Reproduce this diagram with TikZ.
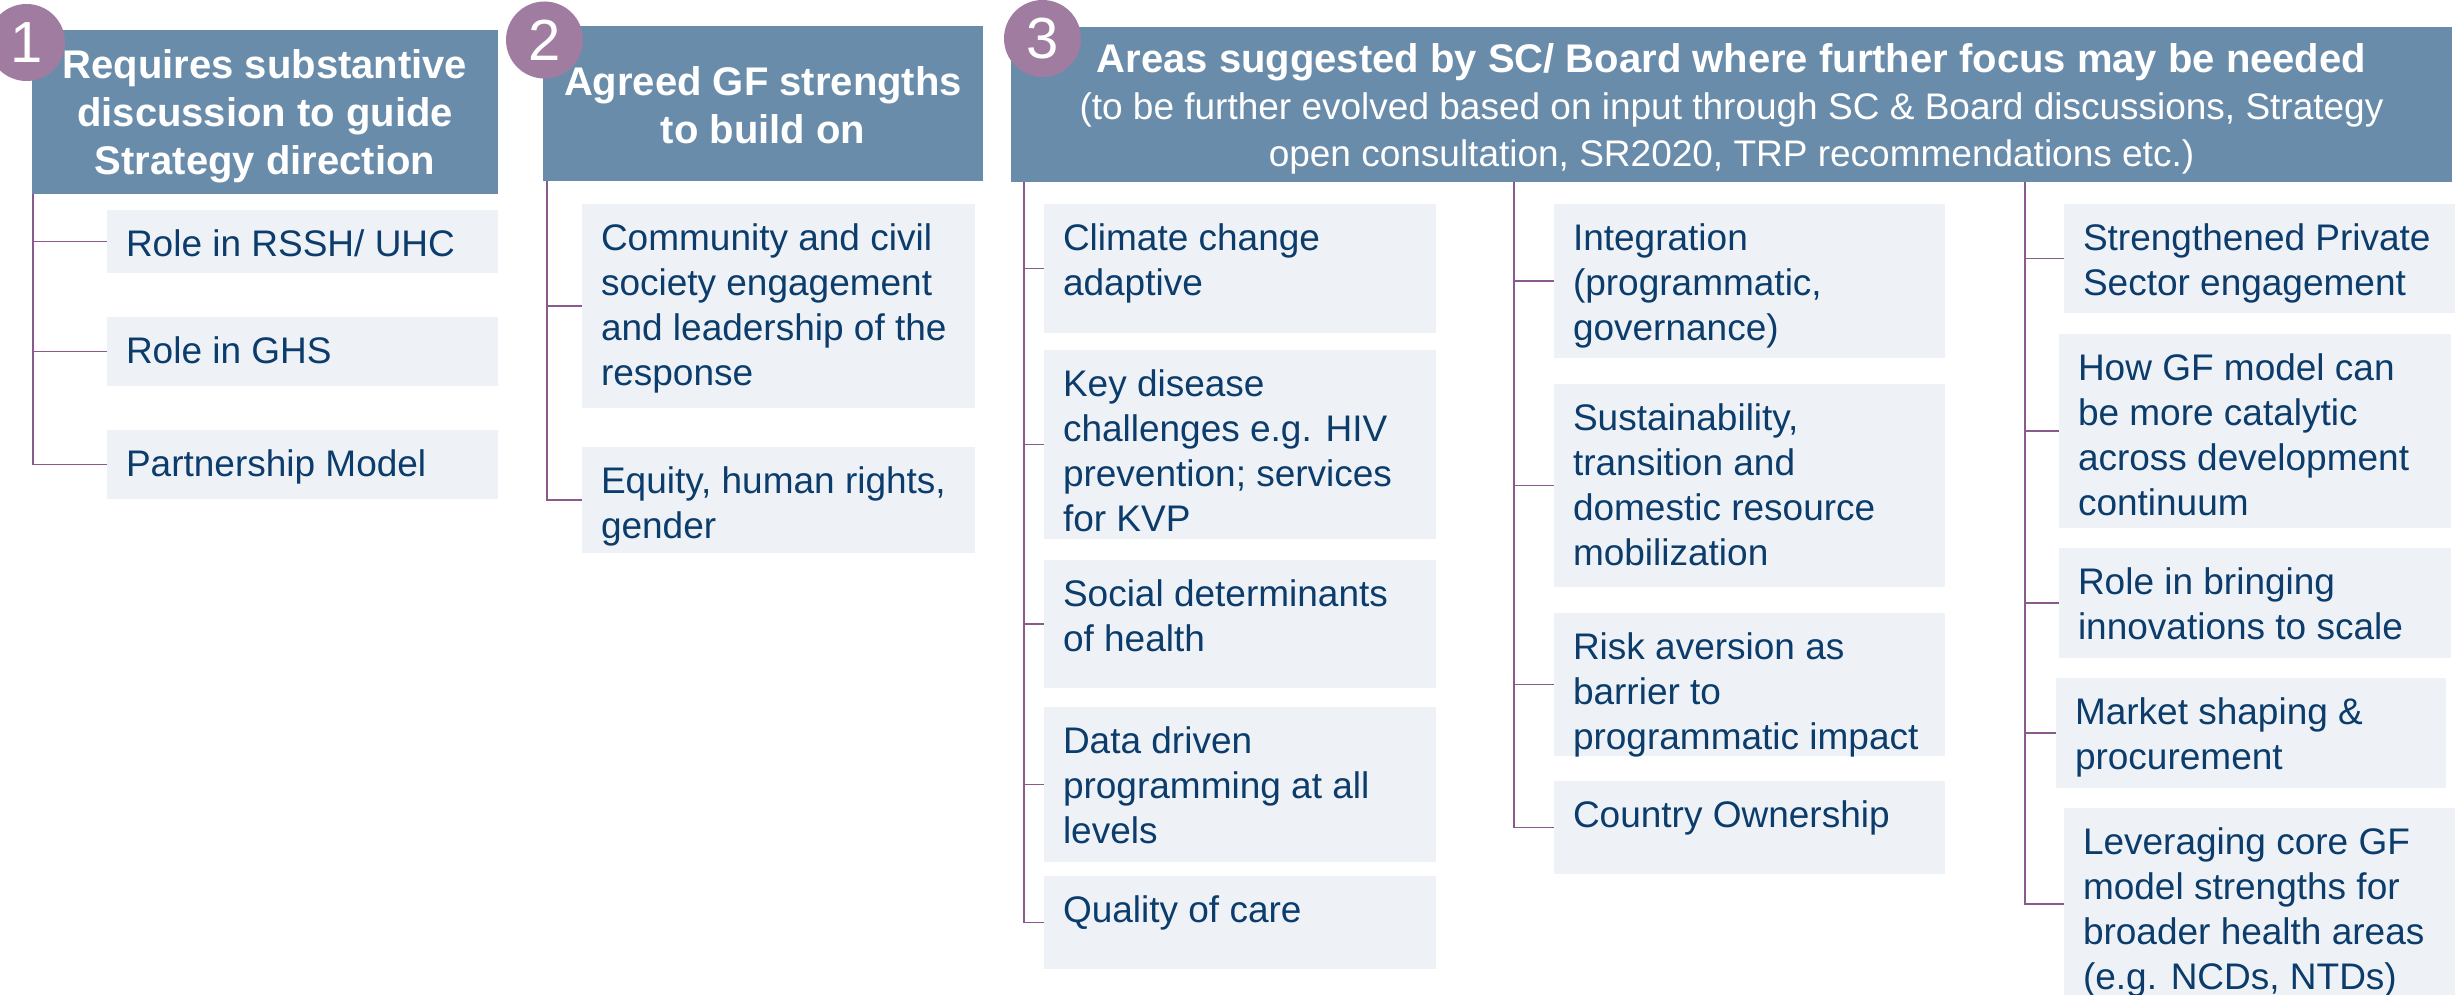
\documentclass[tikz,border=0pt]{standalone}
\usepackage{fontspec}
\setmainfont{Liberation Sans}
\usetikzlibrary{fit}
\definecolor{headblue}{HTML}{6A8CAB}
\definecolor{numpurple}{HTML}{A07CA0}
\definecolor{itemgray}{HTML}{EEF2F6}
\definecolor{textblue}{HTML}{0B3C6B}
\definecolor{linkpurple}{HTML}{8B5A8C}
\tikzset{
head/.style={
fill=headblue,
inner sep=0pt},
headtext/.style={
inner sep=0pt,
yshift=-2pt,
text=white,
align=center,
font=\bfseries\fontsize{20}{24}\selectfont},
num/.style={
circle,
fill=numpurple,
minimum size=38.5pt,
inner sep=0pt,
text=white,
font=\fontsize{29}{29}\selectfont},
item/.style={
fill=itemgray,
inner sep=0pt},
itemtext/.style={
anchor=north west,
inner xsep=9.5pt,
inner ysep=10pt,
align=left,
text=textblue,
font=\fontsize{18.5}{22.5}\selectfont},
link/.style={
draw=linkpurple,
line width=0.75pt}}

\begin{document}
\begin{tikzpicture}[x=0.5pt, y=-0.5pt]
\useasboundingbox (0,0) rectangle (2458,995);
\node[head, fit={(32,30) (498,194)}] (h1) {};
\node[headtext] at (h1.center) {Requires substantive\\discussion to guide\\Strategy direction};
\node[head, fit={(543,26) (983,181)}] (h2) {};
\node[headtext, yshift=1pt] at (h2.center) {Agreed GF strengths\\to build on};
\node[head, fit={(1011,27) (2452,182)}] (h3) {};
\node[headtext, font=\fontsize{18.5}{23.5}\selectfont] at (h3.center) {{\bfseries\fontsize{20}{23.5}\selectfont Areas suggested by SC/ Board where further focus may be needed}\\(to be further evolved based on input through SC \& Board discussions, Strategy\\open consultation, SR2020, TRP recommendations etc.)};
\node[num] (n1) at (26.5,42.5) {1};
\node[num] (n2) at (544.5,40) {2};
\node[num] (n3) at (1042.5,38.5) {3};

\node[item, fit={(107,210) (498,273)}] (rssh) {};
\node[itemtext] at (rssh.north west) {Role in RSSH/ UHC};
\node[item, fit={(107,317) (498,386)}] (ghs) {};
\node[itemtext] at (ghs.north west) {Role in GHS};
\node[item, fit={(107,430) (498,499)}] (pm) {};
\node[itemtext] at (pm.north west) {Partnership Model};

\node[item, fit={(582,204) (975,408)}] (comm) {};
\node[itemtext] at (comm.north west) {Community and civil\\society engagement\\and leadership of the\\response};
\node[item, fit={(582,447) (975,553)}] (equity) {};
\node[itemtext] at (equity.north west) {Equity, human rights,\\gender};

\node[item, fit={(1044,204) (1436,333)}] (climate) {};
\node[itemtext] at (climate.north west) {Climate change\\adaptive};
\node[item, fit={(1044,350) (1436,539)}] (keydis) {};
\node[itemtext] at (keydis.north west) {Key disease\\challenges e.g. HIV\\prevention; services\\for KVP};
\node[item, fit={(1044,560) (1436,688)}] (social) {};
\node[itemtext] at (social.north west) {Social determinants\\of health};
\node[item, fit={(1044,707) (1436,862)}] (data) {};
\node[itemtext] at (data.north west) {Data driven\\programming at all\\levels};
\node[item, fit={(1044,876) (1436,969)}] (quality) {};
\node[itemtext] at (quality.north west) {Quality of care};

\node[item, fit={(1554,204) (1945,358)}] (integ) {};
\node[itemtext] at (integ.north west) {Integration\\(programmatic,\\governance)};
\node[item, fit={(1554,384) (1945,587)}] (sustain) {};
\node[itemtext] at (sustain.north west) {Sustainability,\\transition and\\domestic resource\\mobilization};
\node[item, fit={(1554,613) (1945,756)}] (risk) {};
\node[itemtext] at (risk.north west) {Risk aversion as\\barrier to\\programmatic impact};
\node[item, fit={(1554,781) (1945,874)}] (country) {};
\node[itemtext] at (country.north west) {Country Ownership};

\node[item, fit={(2064,204) (2455,313)}] (private) {};
\node[itemtext] at (private.north west) {Strengthened Private\\Sector engagement};
\node[item, fit={(2059,334) (2451,528)}] (catalytic) {};
\node[itemtext] at (catalytic.north west) {How GF model can\\be more catalytic\\across development\\continuum};
\node[item, fit={(2059,548) (2451,658)}] (innov) {};
\node[itemtext] at (innov.north west) {Role in bringing\\innovations to scale};
\node[item, fit={(2056,678) (2446,788)}] (market) {};
\node[itemtext] at (market.north west) {Market shaping \&\\procurement};
\node[item, fit={(2064,808) (2455,1000)}] (leverage) {};
\node[itemtext] at (leverage.north west) {Leveraging core GF\\model strengths for\\broader health areas\\(e.g. NCDs, NTDs)};

\coordinate (t1) at (33,194);
\coordinate (t2) at (547,181);
\coordinate (t3a) at (1024,182);
\coordinate (t3b) at (1514,182);
\coordinate (t3c) at (2025,182);
\foreach \b in {rssh,ghs,pm} \draw[link] (t1) |- (\b.west);
\foreach \b in {comm,equity} \draw[link] (t2) |- (\b.west);
\foreach \b in {climate,keydis,social,data,quality} \draw[link] (t3a) |- (\b.west);
\foreach \b in {integ,sustain,risk,country} \draw[link] (t3b) |- (\b.west);
\foreach \b in {private,catalytic,innov,market,leverage} \draw[link] (t3c) |- (\b.west);
\end{tikzpicture}
\end{document}
